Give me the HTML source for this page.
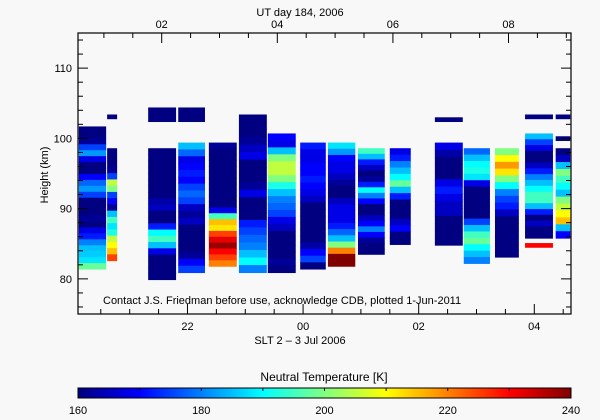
<!DOCTYPE html>
<html><head><meta charset="utf-8">
<style>
html,body{margin:0;padding:0;background:#f8f8f8;}
svg{display:block;font-family:"Liberation Sans",sans-serif;}
</style></head>
<body>
<svg id="chart" width="600" height="420" viewBox="0 0 600 420">
<defs>
<linearGradient id="jet" x1="0" x2="1" y1="0" y2="0">
<stop offset="0" stop-color="#000080"/><stop offset="0.125" stop-color="#0000ff"/>
<stop offset="0.25" stop-color="#0080ff"/><stop offset="0.375" stop-color="#00ffff"/>
<stop offset="0.5" stop-color="#80ff80"/><stop offset="0.625" stop-color="#ffff00"/>
<stop offset="0.75" stop-color="#ff8000"/><stop offset="0.875" stop-color="#ff0000"/>
<stop offset="1" stop-color="#800000"/></linearGradient>
</defs>
<g id="marks"></g>
<g id="axes"></g>
<text x="300" y="16" text-anchor="middle" font-size="11">UT day 184, 2006</text>
<text x="300" y="344" text-anchor="middle" font-size="11">SLT 2 – 3 Jul 2006</text>
<text transform="translate(48,175) rotate(-90)" text-anchor="middle" font-size="11">Height (km)</text>
<text x="103" y="304" font-size="11">Contact J.S. Friedman before use, acknowledge CDB, plotted 1-Jun-2011</text>
<text x="324" y="381" text-anchor="middle" font-size="12">Neutral Temperature [K]</text>
<rect x="78" y="388" width="493" height="10" fill="url(#jet)" stroke="#000" stroke-width="1"/>
<g id="cbticks"></g>
</svg>
<script>
const segStart=[20.12,20.61,21.32,21.84,22.37,22.89,23.39,23.95,24.43,24.95,25.50,26.28,26.78,27.32,27.84,28.37, 20.61,21.32,21.84,26.28,27.84,28.37,28.37,27.84];
const segEnd=[20.61,20.80,21.82,22.32,22.87,23.39,23.89,24.41,24.92,25.43,25.88,26.78,27.25,27.75,28.34,28.64, 20.80,21.82,22.32,26.78,28.34,28.64,28.64,28.34];
const segTop=[101.7,98.6,98.6,99.4,99.4,103.4,100.7,99.4,99.4,98.6,98.6,99.4,98.6,98.6,100.7,98.6, 103.4,104.4,104.4,103.0,103.4,103.4,100.3,85.1];
const segBottom=[81.4,82.6,79.9,80.9,81.8,80.9,80.9,81.4,81.8,83.5,84.9,84.8,82.2,83.1,85.8,85.8, 102.8,102.4,102.4,102.4,102.8,102.8,99.7,84.5];
const segTemps=[
[160,160,162,175,182,168,160,160,170,178,182,175,160,160,160,162,160,168,172,180,185,186,188,198],
[160,160,160,162,175,205,200,175,170,162,185,195,188,192,205,210,215,225],
[160,160,160,160,160,160,160,160,163,165,160,160,172,190,195,185,168,160,160,160,160],
[185,178,168,170,172,170,175,178,175,165,162,165,160,160,160,160,162,170,175],
[162,160,160,160,160,160,160,160,160,160,160,168,195,215,212,225,232,238,230,225,220],
[160,160,160,162,165,168,160,160,160,162,168,160,160,160,172,175,178,180,185,190,180],
[170,168,185,200,205,205,200,192,185,180,178,175,168,165,160,160,160,160,162,160],
[172,168,168,170,170,172,170,168,165,160,160,160,160,160,160,163,170,175,160],
[188,182,170,168,168,165,162,160,160,165,168,168,168,172,178,185,200,220,240,240],
[195,185,172,165,160,162,172,190,180,170,160,160,165,170,180,170,162,160,160],
[168,172,180,185,190,198,185,172,160,160,160,165,170,160,160],
[168,163,160,160,160,168,172,168,165,165,160,160,160,160],
[178,185,190,192,188,168,160,160,160,160,160,175,185,195,198,190,185,180],
[200,210,218,212,200,190,180,175,172,165,160,160,160,160,160,160],
[185,175,168,160,160,165,172,180,185,190,195,195,185,172,160,165,160,160],
[160,165,185,200,195,190,185,200,205,210,215,185,170],
[160],[160],[160],[160],[160],[160],[160],[230]];
const xTickLabels=["22","00","02","04"];
const xTickHours=[22,24,26,28];
const utTickLabels=["02","04","06","08"];
const utTickHours=[2,4,6,8];
const yTicks=[80,90,100,110];
const cbTicks=[160,180,200,220,240];

const NS="http://www.w3.org/2000/svg";
const X0=78,X1=571,Y0=33,Y1=314;
const T0=20.106,T1=28.635,H0=75,H1=115,UTOFF=4.446;
const xs=t=>X0+(t-T0)/(T1-T0)*(X1-X0);
const ys=h=>Y1-(h-H0)/(H1-H0)*(Y1-Y0);
const cbx=v=>X0+(v-160)/80*(X1-X0);
const stops=[[0,0,128],[0,0,255],[0,128,255],[0,255,255],[128,255,128],[255,255,0],[255,128,0],[255,0,0],[128,0,0]];
function jet(v){let f=Math.max(0,Math.min(1,(v-160)/80))*8;let i=Math.min(7,Math.floor(f)),r=f-i;
const a=stops[i],b=stops[i+1];return `rgb(${a.map((c,k)=>Math.round(c+(b[k]-c)*r)).join(',')})`;}
function mk(tag,attrs,parent){const e=document.createElementNS(NS,tag);for(const k in attrs)e.setAttribute(k,attrs[k]);parent.appendChild(e);return e;}
const marks=document.getElementById('marks');
for(let s=0;s<segStart.length;s++){
  const x=xs(segStart[s]),w=xs(segEnd[s])-x-1;
  const temps=segTemps[s],n=temps.length,ht=(segTop[s]-segBottom[s])/n;
  for(let j=0;j<n;j++){
    const yt=ys(segTop[s]-j*ht),yb=ys(segTop[s]-(j+1)*ht);
    const r=mk('rect',{x:x,y:yt,width:w,height:yb-yt+0.5,fill:jet(temps[j])},marks);
    
    
  }
}
const ax=document.getElementById('axes');
mk('rect',{x:X0,y:Y0,width:X1-X0,height:Y1-Y0,fill:'none',stroke:'#000','stroke-width':1.2},ax);
for(let t=20.5;t<T1;t+=0.5){const x=xs(t),maj=xTickHours.includes(t);
  mk('line',{x1:x,x2:x,y1:Y1,y2:Y1-(maj?10:5),stroke:'#000'},ax);}
for(let u=T0+UTOFF;u<T1+UTOFF;u+=0.01){}
for(let u=Math.ceil((T0-UTOFF+24)*2)/2;u<T1-UTOFF+24;u+=0.5){const t=u+UTOFF-24+24-24;const x=xs(u-24+UTOFF+0*0);}
for(let u=0;u<=10;u+=0.5){const t=u+24-UTOFF;if(t<=T0||t>=T1)continue;const x=xs(t),maj=utTickHours.includes(u);
  mk('line',{x1:x,x2:x,y1:Y0,y2:Y0+(maj?10:5),stroke:'#000'},ax);}
for(let h=76;h<115;h+=2){const y=ys(h),maj=yTicks.includes(h);
  mk('line',{x1:X0,x2:X0+(maj?10:5),y1:y,y2:y,stroke:'#000'},ax);
  mk('line',{x1:X1,x2:X1-(maj?10:5),y1:y,y2:y,stroke:'#000'},ax);}
xTickLabels.forEach((l,i)=>{const e=mk('text',{x:xs(xTickHours[i]),y:330,'text-anchor':'middle','font-size':11},ax);e.textContent=l;
  });
utTickLabels.forEach((l,i)=>{const e=mk('text',{x:xs(utTickHours[i]+24-UTOFF),y:28,'text-anchor':'middle','font-size':11},ax);e.textContent=l;
  });
yTicks.forEach(v=>{const e=mk('text',{x:72,y:ys(v)+4,'text-anchor':'end','font-size':11},ax);e.textContent=v;
  });
const cb=document.getElementById('cbticks');
for(let v=170;v<240;v+=10){mk('line',{x1:cbx(v),x2:cbx(v),y1:388,y2:391,stroke:'#000'},cb);}
cbTicks.forEach(v=>{const e=mk('text',{x:cbx(v),y:414,'text-anchor':'middle','font-size':11},cb);e.textContent=v;
  });
</script>
</body></html>
